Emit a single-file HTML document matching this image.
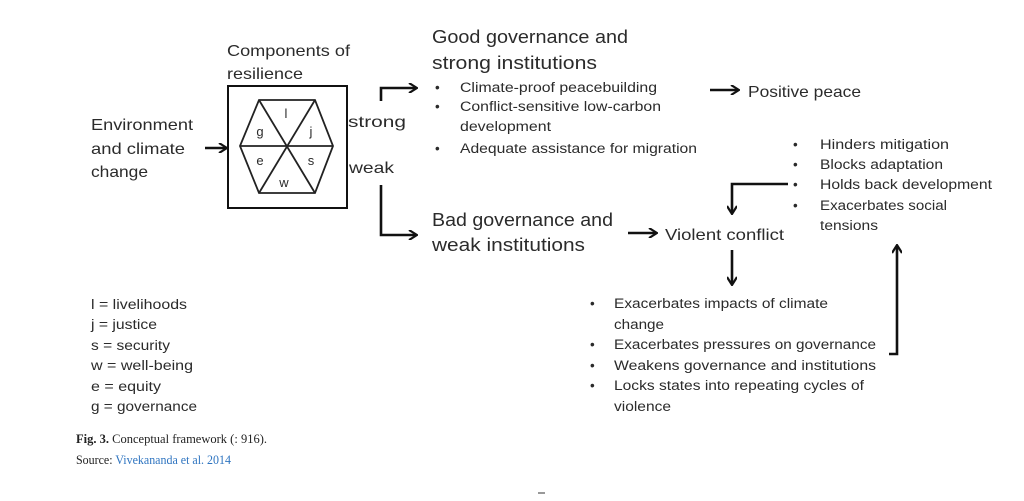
<!DOCTYPE html>
<html><head><meta charset="utf-8"><style>
html,body{margin:0;padding:0;background:#fff;width:1024px;height:501px;overflow:hidden}
svg text{font-family:"Liberation Sans",sans-serif;fill:#2b2b2b}
.c{font-family:"Liberation Serif",serif;fill:#222}
</style></head><body>
<svg width="1024" height="501" viewBox="0 0 1024 501" xmlns="http://www.w3.org/2000/svg">
<defs><marker id="a" markerWidth="10" markerHeight="10" refX="8" refY="5" orient="auto" markerUnits="userSpaceOnUse"><path d="M1,0 L9,5 L1,10" fill="none" stroke="#111" stroke-width="2.2"/></marker></defs>
<g stroke="#111" stroke-width="2.6" fill="none">
<line x1="205" y1="148" x2="226" y2="148" marker-end="url(#a)"/>
<polyline points="381,101 381,88 416,88" marker-end="url(#a)"/>
<polyline points="381,185 381,235 416,235" marker-end="url(#a)"/>
<line x1="710" y1="90" x2="738" y2="90" marker-end="url(#a)"/>
<line x1="628" y1="233" x2="656" y2="233" marker-end="url(#a)"/>
<polyline points="788,184 732,184 732,213" marker-end="url(#a)"/>
<line x1="732" y1="250" x2="732" y2="284" marker-end="url(#a)"/>
<polyline points="889,354 897,354 897,246" marker-end="url(#a)"/>
</g>
<rect x="228" y="86" width="119" height="122" fill="none" stroke="#111" stroke-width="2"/>
<g stroke="#222" stroke-width="1.8" fill="none">
<polygon points="240,146 259,100 315,100 333,146 315,193 259,193"/>
<line x1="240" y1="146" x2="333" y2="146"/>
<line x1="259" y1="100" x2="315" y2="193"/>
<line x1="315" y1="100" x2="259" y2="193"/>
</g>
<g font-size="13" text-anchor="middle">
<text x="286" y="118">l</text><text x="311" y="136">j</text><text x="260" y="136">g</text>
<text x="260" y="165">e</text><text x="311" y="165">s</text><text x="284" y="187">w</text>
</g>
<g font-size="16">
<text x="227" y="56" textLength="123" lengthAdjust="spacingAndGlyphs">Components of</text>
<text x="227" y="79" textLength="76" lengthAdjust="spacingAndGlyphs">resilience</text>
<text x="91" y="130" textLength="102" lengthAdjust="spacingAndGlyphs">Environment</text>
<text x="91" y="154" textLength="94" lengthAdjust="spacingAndGlyphs">and climate</text>
<text x="91" y="177" textLength="57" lengthAdjust="spacingAndGlyphs">change</text>
<text x="348" y="127" textLength="58" lengthAdjust="spacingAndGlyphs">strong</text>
<text x="349" y="173" textLength="45" lengthAdjust="spacingAndGlyphs">weak</text>
<text x="748" y="97" textLength="113" lengthAdjust="spacingAndGlyphs">Positive peace</text>
<text x="665" y="240" textLength="119" lengthAdjust="spacingAndGlyphs">Violent conflict</text>
</g>
<g font-size="18">
<text x="432" y="43" textLength="196" lengthAdjust="spacingAndGlyphs">Good governance and</text>
<text x="432" y="69" textLength="165" lengthAdjust="spacingAndGlyphs">strong institutions</text>
<text x="432" y="226" textLength="181" lengthAdjust="spacingAndGlyphs">Bad governance and</text>
<text x="432" y="251" textLength="153" lengthAdjust="spacingAndGlyphs">weak institutions</text>
</g>
<g font-size="13.5">
<text x="435" y="92">•</text><text x="460" y="92" textLength="197" lengthAdjust="spacingAndGlyphs">Climate-proof peacebuilding</text>
<text x="435" y="111">•</text><text x="460" y="111" textLength="201" lengthAdjust="spacingAndGlyphs">Conflict-sensitive low-carbon</text>
<text x="460" y="131" textLength="91" lengthAdjust="spacingAndGlyphs">development</text>
<text x="435" y="153">•</text><text x="460" y="153" textLength="237" lengthAdjust="spacingAndGlyphs">Adequate assistance for migration</text>

<text x="793" y="149">•</text><text x="820" y="149" textLength="129" lengthAdjust="spacingAndGlyphs">Hinders mitigation</text>
<text x="793" y="169">•</text><text x="820" y="169" textLength="123" lengthAdjust="spacingAndGlyphs">Blocks adaptation</text>
<text x="793" y="189">•</text><text x="820" y="189" textLength="172" lengthAdjust="spacingAndGlyphs">Holds back development</text>
<text x="793" y="210">•</text><text x="820" y="210" textLength="127" lengthAdjust="spacingAndGlyphs">Exacerbates social</text>
<text x="820" y="230" textLength="58" lengthAdjust="spacingAndGlyphs">tensions</text>

<text x="590" y="308">•</text><text x="614" y="308" textLength="214" lengthAdjust="spacingAndGlyphs">Exacerbates impacts of climate</text>
<text x="614" y="329" textLength="50" lengthAdjust="spacingAndGlyphs">change</text>
<text x="590" y="349">•</text><text x="614" y="349" textLength="262" lengthAdjust="spacingAndGlyphs">Exacerbates pressures on governance</text>
<text x="590" y="370">•</text><text x="614" y="370" textLength="262" lengthAdjust="spacingAndGlyphs">Weakens governance and institutions</text>
<text x="590" y="390">•</text><text x="614" y="390" textLength="250" lengthAdjust="spacingAndGlyphs">Locks states into repeating cycles of</text>
<text x="614" y="411" textLength="57" lengthAdjust="spacingAndGlyphs">violence</text>

<text x="91" y="309" textLength="96" lengthAdjust="spacingAndGlyphs">l = livelihoods</text>
<text x="91" y="329" textLength="66" lengthAdjust="spacingAndGlyphs">j = justice</text>
<text x="91" y="350" textLength="79" lengthAdjust="spacingAndGlyphs">s = security</text>
<text x="91" y="370" textLength="102" lengthAdjust="spacingAndGlyphs">w = well-being</text>
<text x="91" y="391" textLength="70" lengthAdjust="spacingAndGlyphs">e = equity</text>
<text x="91" y="411" textLength="106" lengthAdjust="spacingAndGlyphs">g = governance</text>
</g>
<text class="c" x="76" y="443" font-size="13" textLength="191" lengthAdjust="spacingAndGlyphs"><tspan font-weight="bold">Fig. 3.</tspan> Conceptual framework (: 916).</text>
<text class="c" x="76" y="464" font-size="13" textLength="155" lengthAdjust="spacingAndGlyphs">Source: <tspan style="fill:#2e74c0">Vivekananda et al. 2014</tspan></text>
<line x1="538" y1="493" x2="545" y2="493" stroke="#333" stroke-width="1"/>
</svg>
</body></html>
